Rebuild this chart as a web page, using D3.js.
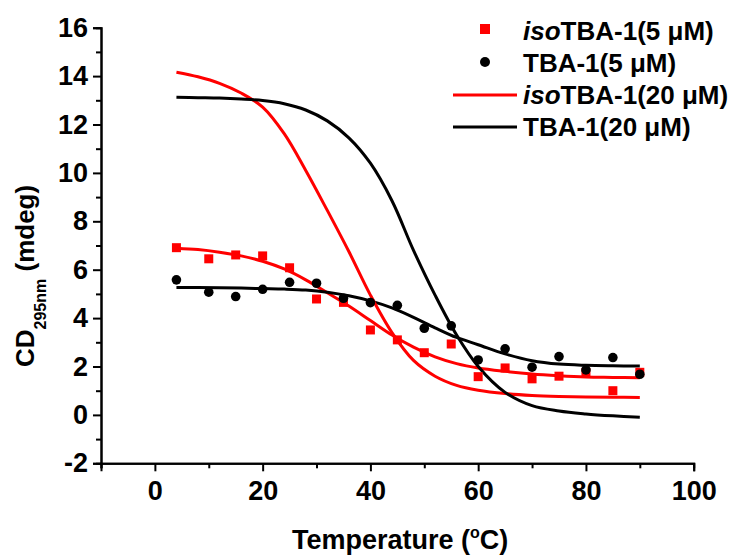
<!DOCTYPE html>
<html>
<head>
<meta charset="utf-8">
<script src="https://cdn.jsdelivr.net/npm/d3@7"></script>
<style>
  html, body { margin: 0; padding: 0; background: #fff; }
  svg { display: block; font-family: "Liberation Sans", Arial, sans-serif; font-weight: bold; }
</style>
</head>
<body>
<svg id="chart" width="738" height="558"></svg>
<script>
// Temperatures (°C) at which CD at 295 nm was recorded
const temps = [4, 10, 15, 20, 25, 30, 35, 40, 45, 50, 55, 60, 65, 70, 75, 80, 85, 90];

// Measured CD (mdeg), 5 µM strands
const iso5 = [6.91, 6.45, 6.61, 6.57, 6.08, 4.79, 4.65, 3.51, 3.10, 2.57, 2.93, 1.58, 1.94, 1.49, 1.60, 1.75, 1.00, 1.76];
const tba5 = [5.58, 5.07, 4.89, 5.19, 5.48, 5.44, 4.82, 4.64, 4.53, 3.58, 3.68, 2.27, 2.73, 1.97, 2.41, 1.86, 2.37, 1.68];

// Fitted melting curves, sampled at these temperatures
const fitTemps = [4, 8, 12, 16, 20, 24, 28, 32, 36, 40, 44, 48, 52, 56, 60, 65, 70, 75, 80, 85, 90];
const iso5Fit  = [6.89, 6.83, 6.72, 6.57, 6.35, 6.03, 5.58, 5.05, 4.50, 3.90, 3.30, 2.80, 2.40, 2.12, 1.94, 1.80, 1.69, 1.62, 1.57, 1.55, 1.53];
const tba5Fit  = [5.26, 5.26, 5.25, 5.24, 5.22, 5.20, 5.16, 5.07, 4.92, 4.71, 4.42, 4.03, 3.60, 3.20, 2.90, 2.52, 2.24, 2.10, 2.05, 2.03, 2.02];
const iso20Fit = [14.16, 13.97, 13.70, 13.30, 12.72, 11.62, 10.10, 8.45, 6.75, 4.95, 3.40, 2.25, 1.60, 1.22, 1.02, 0.88, 0.80, 0.76, 0.74, 0.73, 0.72];
const tba20Fit = [13.13, 13.11, 13.09, 13.05, 12.99, 12.86, 12.60, 12.15, 11.45, 10.40, 8.85, 6.80, 4.95, 3.30, 2.00, 0.93, 0.38, 0.16, 0.04, -0.04, -0.10];

// Axis ticks
const xMajor = [0, 20, 40, 60, 80, 100];
const xMinor = [-10, 10, 30, 50, 70, 90];
const yMajor = [-2, 0, 2, 4, 6, 8, 10, 12, 14, 16];
const yMinor = [-1, 1, 3, 5, 7, 9, 11, 13, 15];

const RED = "#ff0000", BLACK = "#000000";

const svg = d3.select("#chart");
const x = d3.scaleLinear().domain([-10, 100]).range([101, 693.7]);
const y = d3.scaleLinear().domain([-2, 16]).range([463.3, 27.7]);

// ---- axes ----
function styleAxis(g) {
  g.select(".domain").attr("stroke", BLACK).attr("stroke-width", 2);
  g.selectAll(".tick line").attr("stroke", BLACK).attr("stroke-width", 2);
  g.selectAll(".tick text").attr("fill", BLACK).style("font-size", "27px").style("font-weight", "bold");
}
const plain = d => String(d);

svg.append("g").attr("transform", `translate(0,${y(-2)})`)
  .call(d3.axisBottom(x).tickValues(xMinor).tickSize(5).tickFormat(""))
  .call(styleAxis);
svg.append("g").attr("transform", `translate(0,${y(-2)})`)
  .call(d3.axisBottom(x).tickValues(xMajor).tickSize(8).tickPadding(10).tickFormat(plain))
  .call(styleAxis);

svg.append("g").attr("transform", `translate(${x(-10)},0)`)
  .call(d3.axisLeft(y).tickValues(yMinor).tickSize(5).tickFormat(""))
  .call(styleAxis);
svg.append("g").attr("transform", `translate(${x(-10)},0)`)
  .call(d3.axisLeft(y).tickValues(yMajor).tickSize(8).tickPadding(5).tickFormat(plain))
  .call(styleAxis);

// ---- axis titles ----
const xt = svg.append("text").attr("x", 292).attr("y", 549).style("font-size", "27px").attr("fill", BLACK);
xt.append("tspan").text("Temperature (");
xt.append("tspan").attr("dy", -11).style("font-size", "16px").text("o");
xt.append("tspan").attr("dy", 11).text("C)");

const yt = svg.append("text").attr("transform", "translate(34,367) rotate(-90)").style("font-size", "26px").attr("fill", BLACK);
yt.append("tspan").text("CD");
yt.append("tspan").attr("dy", 12).style("font-size", "16px").text("295nm");
yt.append("tspan").attr("dy", -12).text(" (mdeg)");

// ---- fitted curves ----
const line = d3.line().x(d => x(d[0])).y(d => y(d[1])).curve(d3.curveCatmullRom.alpha(0.5));
const fits = [
  { vals: iso5Fit, color: RED },
  { vals: tba5Fit, color: BLACK },
  { vals: iso20Fit, color: RED },
  { vals: tba20Fit, color: BLACK }
];
fits.forEach(f => {
  svg.append("path")
    .datum(fitTemps.map((t, i) => [t, f.vals[i]]))
    .attr("d", line).attr("fill", "none")
    .attr("stroke", f.color).attr("stroke-width", 3);
});

// ---- measured points ----
const sq = 9;
svg.append("g").selectAll("rect").data(temps.map((t, i) => [t, iso5[i]])).join("rect")
  .attr("x", d => x(d[0]) - sq / 2).attr("y", d => y(d[1]) - sq / 2)
  .attr("width", sq).attr("height", sq).attr("fill", RED);
svg.append("g").selectAll("circle").data(temps.map((t, i) => [t, tba5[i]])).join("circle")
  .attr("cx", d => x(d[0])).attr("cy", d => y(d[1])).attr("r", 4.8).attr("fill", BLACK);

// ---- legend ----
const lg = svg.append("g").style("font-size", "26px").attr("fill", BLACK);
lg.append("rect").attr("x", 480).attr("y", 24).attr("width", 10).attr("height", 10).attr("fill", RED);
lg.append("circle").attr("cx", 485).attr("cy", 62).attr("r", 5).attr("fill", BLACK);
lg.append("line").attr("x1", 453).attr("x2", 517).attr("y1", 95).attr("y2", 95).attr("stroke", RED).attr("stroke-width", 3);
lg.append("line").attr("x1", 453).attr("x2", 517).attr("y1", 127).attr("y2", 127).attr("stroke", BLACK).attr("stroke-width", 3);

const labels = [
  { iso: true,  rest: "TBA-1(5 \u03BCM)",  y: 39.5 },
  { iso: false, rest: "TBA-1(5 \u03BCM)",  y: 71.7 },
  { iso: true,  rest: "TBA-1(20 \u03BCM)", y: 104 },
  { iso: false, rest: "TBA-1(20 \u03BCM)", y: 135.5 }
];
labels.forEach(l => {
  const t = lg.append("text").attr("x", 523).attr("y", l.y);
  if (l.iso) t.append("tspan").style("font-style", "italic").text("iso");
  t.append("tspan").text(l.rest);
});
</script>
</body>
</html>
